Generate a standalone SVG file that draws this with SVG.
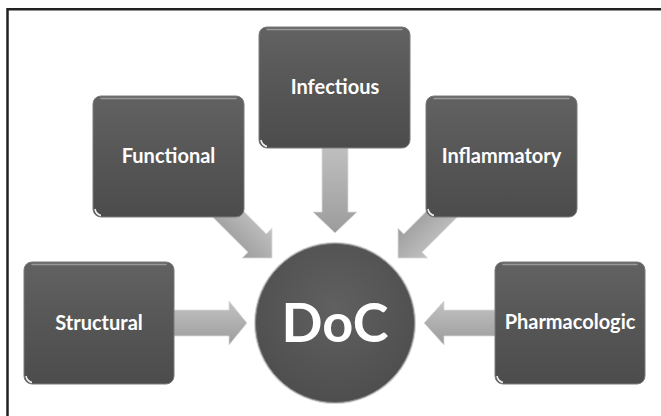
<svg xmlns="http://www.w3.org/2000/svg" width="661" height="416" viewBox="0 0 661 416">
  <defs>
    <linearGradient id="boxGrad" x1="0" y1="0" x2="0" y2="1">
      <stop offset="0" stop-color="#626262"/>
      <stop offset="0.5" stop-color="#565656"/>
      <stop offset="1" stop-color="#4c4c4c"/>
    </linearGradient>
    <linearGradient id="arrowGrad" x1="0" y1="0" x2="0" y2="1">
      <stop offset="0" stop-color="#c2c2c2"/>
      <stop offset="1" stop-color="#9c9c9c"/>
    </linearGradient>
    <radialGradient id="circGrad" cx="0.5" cy="0.4" r="0.6">
      <stop offset="0" stop-color="#606060"/>
      <stop offset="1" stop-color="#4e4e4e"/>
    </radialGradient>
  </defs>
  <style>
    .box { fill: url(#boxGrad); stroke: #7a7a7a; stroke-width: 1; }
    .hl { fill: none; stroke: #a8a8a8; stroke-width: 1.5; stroke-linecap: round; opacity: 0.8; }
    .corner { fill: none; stroke: #ffffff; stroke-width: 1.6; opacity: 0.9; }
    .lbl { font-family: Lato, "Liberation Sans", sans-serif; font-weight: bold; font-size: 20px; fill: #ffffff; text-anchor: middle; }
    .arrow { fill: url(#arrowGrad); stroke: #dcdcdc; stroke-width: 0.8; }
  </style>
  <rect x="0" y="0" width="661" height="416" fill="#ffffff"/>
  <path d="M7.5,416 V9.2 H661" fill="none" stroke="#222222" stroke-width="2.5"/>

  <g id="connectors">
    <!-- Infectious down -->
    <polygon class="arrow" points="322,140 348,140 348,212 357,212 335,233 313,212 322,212"/>
    <!-- Structural right -->
    <polygon class="arrow" points="168,310 229,310 229,301 247,323 229,345 229,336 168,336"/>
    <!-- Pharmacologic left -->
    <polygon class="arrow" points="500,310 444,310 444,301 424,323 444,345 444,336 500,336"/>
    <!-- Functional diagonal -->
    <g transform="translate(257.15,243.15) rotate(45)">
      <polygon class="arrow" points="-62,-13 0,-13 0,-21 21,0 0,21 0,13 -62,13"/>
    </g>
    <!-- Inflammatory diagonal -->
    <g transform="translate(412.85,243.15) rotate(135)">
      <polygon class="arrow" points="-62,13 0,13 0,21 21,0 0,-21 0,-13 -62,-13"/>
    </g>
  </g>

  <g id="infectious">
    <rect class="box" x="259" y="27" width="151" height="121" rx="8"/>
    <path class="hl" d="M267,29.5 H402"/>
    <path class="corner" d="M261,140 A8,8 0 0 0 267,146.5"/>
    <text class="lbl" x="335" y="94">Infectious</text>
  </g>
  <g id="functional">
    <rect class="box" x="93" y="96" width="151" height="121" rx="8"/>
    <path class="hl" d="M101,98.5 H236"/>
    <path class="corner" d="M95,209 A8,8 0 0 0 101,215.5"/>
    <text class="lbl" x="168.5" y="163">Functional</text>
  </g>
  <g id="inflammatory">
    <rect class="box" x="426" y="96" width="151" height="121" rx="8"/>
    <path class="hl" d="M434,98.5 H569"/>
    <path class="corner" d="M428,209 A8,8 0 0 0 434,215.5"/>
    <text class="lbl" x="501.5" y="163">Inflammatory</text>
  </g>
  <g id="structural">
    <rect class="box" x="24" y="262" width="150" height="122" rx="8"/>
    <path class="hl" d="M32,264.5 H166"/>
    <path class="corner" d="M26,376 A8,8 0 0 0 32,382.5"/>
    <text class="lbl" x="99" y="330">Structural</text>
  </g>
  <g id="pharmacologic">
    <rect class="box" x="495" y="262" width="150" height="122" rx="8"/>
    <path class="hl" d="M503,264.5 H637"/>
    <path class="corner" d="M497,376 A8,8 0 0 0 503,382.5"/>
    <text class="lbl" x="570" y="329">Pharmacologic</text>
  </g>
  <g id="doc">
    <circle cx="335" cy="323" r="81" fill="#d0d0d0"/>
    <circle cx="335" cy="323" r="79.5" fill="url(#circGrad)" stroke="#8a8a8a" stroke-width="1"/>
    <text x="335" y="342" font-family="Lato, 'Liberation Sans', sans-serif" font-weight="bold" font-size="54" fill="#ffffff" text-anchor="middle">DoC</text>
  </g>
</svg>
